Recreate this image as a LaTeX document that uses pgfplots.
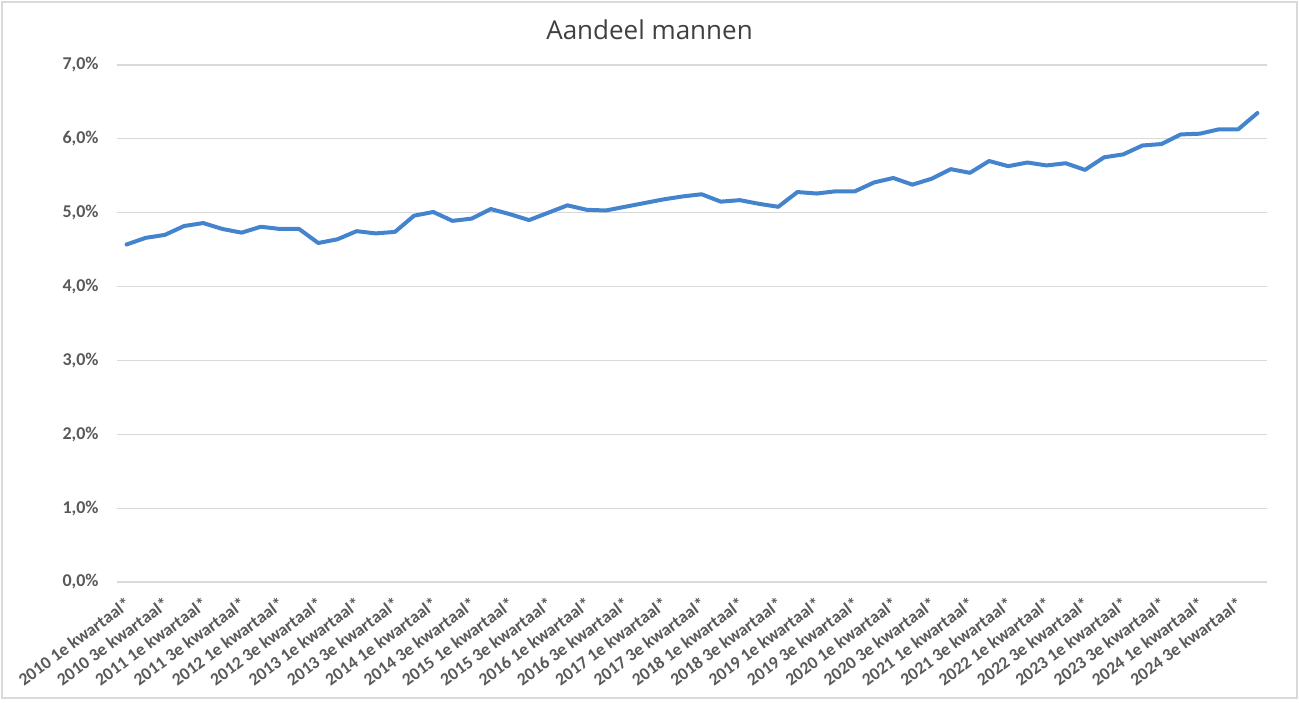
\documentclass[border=0pt]{standalone}
\usepackage{fontspec}
\setmainfont{Carlito}
\newfontfamily\titlefont{Open Sans}
\usepackage{pgfplots}
\pgfplotsset{compat=1.18}
\definecolor{lijn}{RGB}{68,132,206}
\definecolor{tekst}{RGB}{89,89,89}
\definecolor{titel}{RGB}{64,64,64}
\definecolor{raster}{RGB}{217,217,217}
\begin{document}
\begin{tikzpicture}
\begin{axis}[
  at={(58.5pt,60pt)}, anchor=south west,
  scale only axis, width=575pt, height=258.5pt,
  xmin=-0.5, xmax=59.5, ymin=0, ymax=7,
  axis line style={draw=none},
  ymajorgrids, grid style={raster, line width=0.6pt},
  major tick length=0pt,
  ytick={0,...,7},
  yticklabels={{0,0\%},{1,0\%},{2,0\%},{3,0\%},{4,0\%},{5,0\%},{6,0\%},{7,0\%}},
  xtick={0,2,...,58},
  xticklabels={
    2010 1e kwartaal*,2010 3e kwartaal*,2011 1e kwartaal*,2011 3e kwartaal*,
    2012 1e kwartaal*,2012 3e kwartaal*,2013 1e kwartaal*,2013 3e kwartaal*,
    2014 1e kwartaal*,2014 3e kwartaal*,2015 1e kwartaal*,2015 3e kwartaal*,
    2016 1e kwartaal*,2016 3e kwartaal*,2017 1e kwartaal*,2017 3e kwartaal*,
    2018 1e kwartaal*,2018 3e kwartaal*,2019 1e kwartaal*,2019 3e kwartaal*,
    2020 1e kwartaal*,2020 3e kwartaal*,2021 1e kwartaal*,2021 3e kwartaal*,
    2022 1e kwartaal*,2022 3e kwartaal*,2023 1e kwartaal*,2023 3e kwartaal*,
    2024 1e kwartaal*,2024 3e kwartaal*},
  tick label style={font=\bfseries\fontsize{9}{10}\selectfont, text=tekst},
  yticklabel style={anchor=east, inner sep=0pt, xshift=-9pt},
  xticklabel style={font=\bfseries\fontsize{8.8}{10}\selectfont, rotate=36.5, anchor=north east, inner sep=0pt, yshift=-5pt, xshift=-5pt},
]
\addplot[lijn, line width=2pt, line join=round, line cap=round] coordinates {
  (0,4.57) (1,4.66) (2,4.70) (3,4.82) (4,4.86) (5,4.78) (6,4.73) (7,4.81)
  (8,4.78) (9,4.78) (10,4.59) (11,4.64) (12,4.75) (13,4.72) (14,4.74) (15,4.96)
  (16,5.01) (17,4.89) (18,4.92) (19,5.05) (20,4.98) (21,4.90) (22,5.00) (23,5.10)
  (24,5.04) (25,5.03) (26,5.08) (27,5.13) (28,5.18) (29,5.22) (30,5.25) (31,5.15)
  (32,5.17) (33,5.12) (34,5.08) (35,5.28) (36,5.26) (37,5.29) (38,5.29) (39,5.41)
  (40,5.47) (41,5.38) (42,5.46) (43,5.59) (44,5.54) (45,5.70) (46,5.63) (47,5.68)
  (48,5.64) (49,5.67) (50,5.58) (51,5.75) (52,5.79) (53,5.91) (54,5.93) (55,6.06)
  (56,6.07) (57,6.13) (58,6.13) (59,6.35)
};
\end{axis}
\node[font=\titlefont\fontsize{13}{15}\selectfont, text=titel] at (324.75pt,336pt) {Aandeel mannen};
\draw[raster, line width=0.6pt] (1pt,2pt) rectangle (648.5pt,350pt);
\pgfresetboundingbox
\path (0,0) rectangle (649.5pt,351pt);
\end{tikzpicture}
\end{document}
